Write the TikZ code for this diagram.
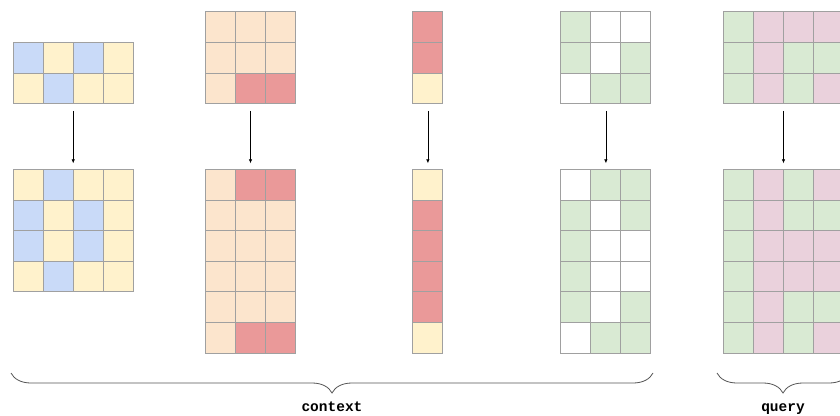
\documentclass[tikz,border=0pt]{standalone}
\usepackage{fontspec}
\setmonofont{Liberation Mono}
\usetikzlibrary{arrows.meta,decorations.pathreplacing}
\definecolor{cB}{HTML}{C9DAF8}
\definecolor{cY}{HTML}{FFF2CC}
\definecolor{cO}{HTML}{FCE5CD}
\definecolor{cR}{HTML}{EA9999}
\definecolor{cG}{HTML}{D9EAD3}
\definecolor{cW}{HTML}{FFFFFF}
\definecolor{cP}{HTML}{EAD1DC}
\definecolor{gridline}{HTML}{A0A0A0}
\definecolor{bracecol}{HTML}{555555}
\tikzset{
  cell/.style={draw=gridline, line width=0.8pt},
  flow/.style={draw=black, line width=0.7pt, -{Latex[length=4pt,width=3.5pt]}},
  bracepath/.style={draw=bracecol, line width=0.8pt, decorate,
    decoration={brace, mirror, amplitude=20pt}},
  label/.style={font=\fontsize{14.5}{16}\selectfont\ttfamily\bfseries, anchor=base, inner sep=0pt}
}
\newcommand\mygrid[6]{%
  \foreach \row [count=\i] in {#6} {
    \foreach \c [count=\j] in \row {
      \draw[cell, fill=c\c] ({#2+(\j-1)*30},{#3+(\i-1)*30.6}) rectangle ++(30,30.6);
    }
  }
  \node[inner sep=0pt, minimum width={#4*30pt}, minimum height={#5*30.6pt}, anchor=north west] (#1) at (#2,#3) {};
}
\begin{document}
\begin{tikzpicture}[x=1pt,y=-1pt]
\clip (0,0) rectangle (840,415);
\fill[white] (0,0) rectangle (840,415);
% grid 1
\mygrid{g1t}{13}{42.3}{4}{2}{{B,Y,B,Y},{Y,B,Y,Y}}
\mygrid{g1b}{13}{169.3}{4}{4}{{Y,B,Y,Y},{B,Y,B,Y},{B,Y,B,Y},{Y,B,Y,Y}}
% grid 2
\mygrid{g2t}{205.3}{11.7}{3}{3}{{O,O,O},{O,O,O},{O,R,R}}
\mygrid{g2b}{205.3}{169.3}{3}{6}{{O,R,R},{O,O,O},{O,O,O},{O,O,O},{O,O,O},{O,R,R}}
% grid 3
\mygrid{g3t}{412.7}{11.7}{1}{3}{{R},{R},{Y}}
\mygrid{g3b}{412.7}{169.3}{1}{6}{{Y},{R},{R},{R},{R},{Y}}
% grid 4
\mygrid{g4t}{560.7}{11.7}{3}{3}{{G,W,W},{G,W,G},{W,G,G}}
\mygrid{g4b}{560.7}{169.3}{3}{6}{{W,G,G},{G,W,G},{G,W,W},{G,W,W},{G,W,G},{W,G,G}}
% grid 5 (query)
\mygrid{g5t}{723.3}{11.7}{4}{3}{{G,P,P,P},{G,P,G,G},{G,P,G,P}}
\mygrid{g5b}{723.3}{169.3}{4}{6}{{G,P,G,P},{G,P,G,G},{G,P,P,P},{G,P,P,P},{G,P,G,G},{G,P,G,P}}
% arrows
\foreach \g in {g1,g2,g3,g4,g5} {
  \draw[flow] ([yshift=-7pt]\g t.south) -- ([yshift=6pt]\g b.north);
}
% braces
\coordinate (cl) at (11,373);
\coordinate (cr) at (653,373);
\coordinate (ql) at (717,373);
\coordinate (qr) at (849,373);
\draw[bracepath] (cl) -- (cr);
\draw[bracepath] (ql) -- (qr);
\node[label] (ctx) at (332,411) {context};
\node[label] (qry) at (783,411) {query};
\end{tikzpicture}
\end{document}
